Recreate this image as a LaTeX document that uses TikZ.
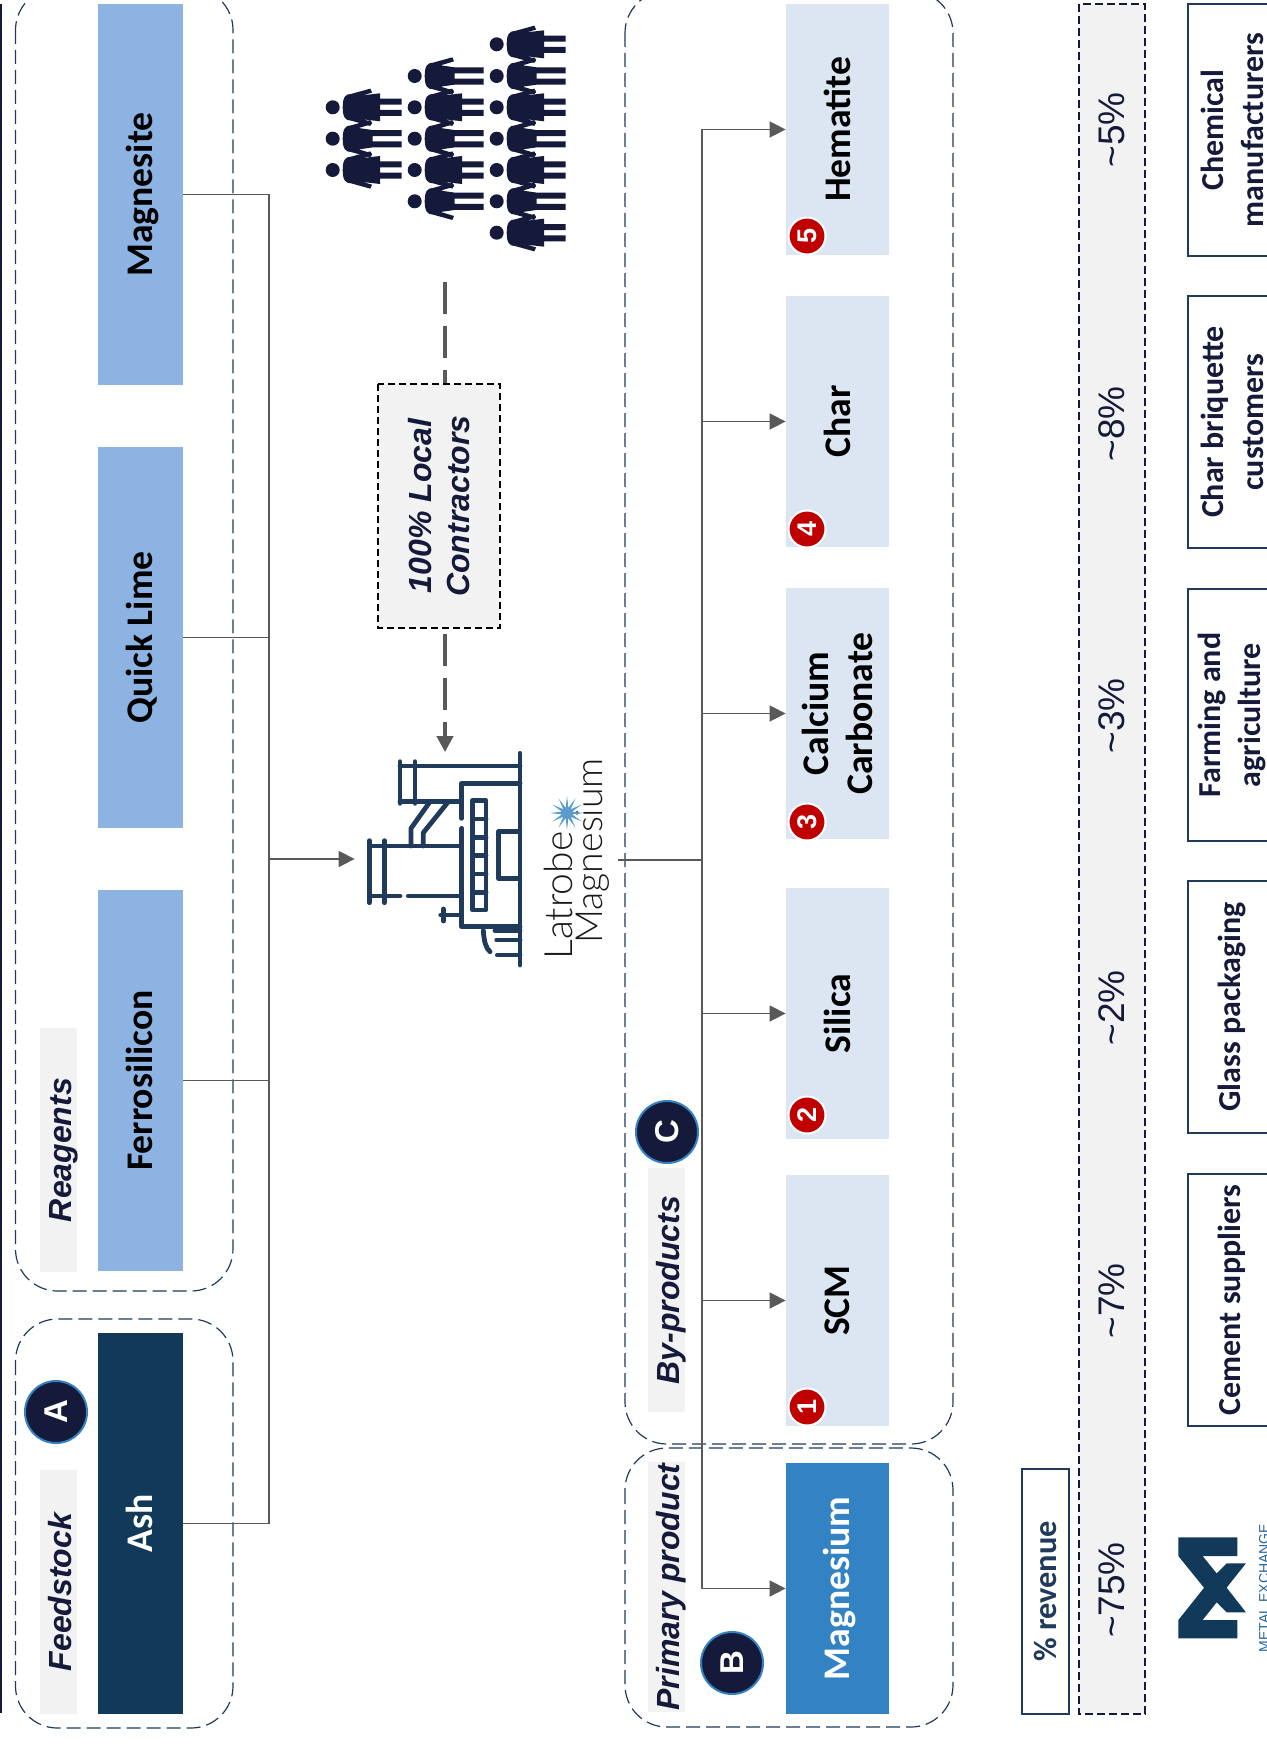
\documentclass[tikz,border=0pt]{standalone}
\usepackage{fontspec}
\setmainfont{Carlito}
\newfontfamily\arialfont{Liberation Sans}
\newfontfamily\logofont{Lato Light}
\definecolor{feednavy}{RGB}{17,58,90}
\definecolor{reagentblue}{RGB}{141,179,226}
\definecolor{mainblue}{RGB}{50,130,196}
\definecolor{paleblue}{RGB}{220,230,242}
\definecolor{inknavy}{RGB}{21,26,58}
\definecolor{linenavy}{RGB}{31,58,90}
\definecolor{bandgray}{RGB}{242,242,242}
\definecolor{arrowgray}{RGB}{89,89,89}
\definecolor{badgered}{RGB}{192,0,0}
\usetikzlibrary{arrows.meta, shapes.geometric}

\begin{document}
\begin{tikzpicture}[
    x=0.5pt, y=-0.5pt,
    group/.style={draw=linenavy, line width=0.6pt, rounded corners=21pt,
                  dash pattern=on 7pt off 3pt},
    stock/.style={fill=#1, rotate=90, inner sep=0pt, align=center,
                  minimum width=190.5pt, minimum height=42.5pt,
                  text height=16pt, text depth=4pt,
                  font=\bfseries\fontsize{18.8}{22}\selectfont},
    product/.style={fill=#1, rotate=90, inner sep=0pt, align=center,
                  minimum width=125.5pt, minimum height=51.5pt,
                  font=\bfseries\fontsize{18.8}{22}\selectfont},
    buyer/.style={draw=linenavy, line width=1.4pt, rotate=90, inner sep=0pt,
                  minimum width=126pt, minimum height=44pt, align=center,
                  text=inknavy, font=\bfseries\fontsize{16}{20}\selectfont},
    tag/.style={fill=bandgray, rotate=90, inner sep=0pt, text=inknavy,
                minimum height=18.5pt, text height=15pt, text depth=2.5pt,
                font=\arialfont\bfseries\itshape\fontsize{16}{19}\selectfont},
    share/.style={rotate=90, text=inknavy,
                  font=\arialfont\fontsize{18.5}{22}\selectfont},
    letter/.style={circle, draw=mainblue, line width=1pt, fill=inknavy,
                   minimum size=31pt, inner sep=0pt, text=white, rotate=90,
                   font=\arialfont\bfseries\fontsize{16.5}{20}\selectfont},
    badge/.style={circle, draw=white, line width=1pt, fill=badgered,
                  minimum size=18.5pt, inner sep=0pt, text=white, rotate=90,
                  font=\arialfont\bfseries\fontsize{13.5}{16}\selectfont},
    link/.style={draw=arrowgray, line width=0.8pt},
    arr/.style={link, -{Triangle[length=8pt,width=8pt]}},
    contract/.style={draw=arrowgray, line width=2pt, dash pattern=on 16pt off 6pt},
    plantline/.style={draw=linenavy, line width=2.4pt, line cap=round, line join=round},
    man/.pic={
      \fill[inknavy] (0,0) circle[radius=21];
      \fill[inknavy] (30,0) .. controls (30,-30) and (38,-40) .. (55,-40)
        -- (113,-56) -- (118,-44) -- (78,-32) -- (120,-26) -- (207,-26) -- (207,-8)
        -- (120,-8) -- (120,8) -- (207,8) -- (207,26) -- (120,26) -- (78,32)
        -- (118,44) -- (113,56) -- (55,40) .. controls (38,40) and (30,30) .. (30,0);
    },
    woman/.pic={
      \fill[inknavy] (0,0) circle[radius=21];
      \fill[inknavy] (30,0) .. controls (30,-30) and (38,-40) .. (55,-40)
        -- (113,-56) -- (118,-44) -- (90,-36) -- (142,-42) -- (142,-26) -- (207,-26) -- (207,-8)
        -- (142,-8) -- (142,8) -- (207,8) -- (207,26) -- (142,26) -- (142,42) -- (90,36)
        -- (118,44) -- (113,56) -- (55,40) .. controls (38,40) and (30,30) .. (30,0);
    }
  ]
    \useasboundingbox (0,0) rectangle (1267,1744);

    %% PAGE EDGE LINE
    \coordinate (edgetop) at (1,4);
    \coordinate (edgebottom) at (1,1713);
    \draw[inknavy, line width=1pt] (edgetop) -- (edgebottom);

    %% DASHED GROUPS
    \draw[group] (15.5,-12) rectangle (233,1291);
    \draw[group] (15.5,1319) rectangle (233,1728);
    \draw[group] (625,-9) rectangle (953,1444);
    \draw[group] (625,1448) rectangle (953,1727);

    %% FEED BOXES
    \node[stock=reagentblue] (magnesite) at (140.5,194.5) {Magnesite};
    \node[stock=reagentblue] (quicklime) at (140.5,637.5) {Quick Lime};
    \node[stock=reagentblue] (ferrosilicon) at (140.5,1080.5) {Ferrosilicon};
    \node[stock=feednavy, text=white] (ash) at (140.5,1523.5) {Ash};

    %% GROUP TAGS
    \node[tag, minimum width=122pt] (reagents) at (58.5,1150) {Reagents};
    \node[tag, minimum width=122pt] (feedstock) at (58.5,1592) {Feedstock};
    \node[tag, minimum width=122pt] (byproducts) at (666.5,1290) {By-products};
    \node[tag, minimum width=125pt] (primary) at (666.5,1587) {Primary product};
    \node[letter] (lettera) at (56,1412) {A};
    \node[letter] (letterb) at (732,1663) {B};
    \node[letter] (letterc) at (667,1132) {C};

    %% PRODUCT BOXES
    \node[product=paleblue] (hematite) at (837.5,129.5) {Hematite};
    \node[product=paleblue] (char) at (837.5,421.5) {Char};
    \node[product=paleblue] (calcium) at (837.5,713.5) {Calcium\\Carbonate};
    \node[product=paleblue] (silica) at (837.5,1013.5) {Silica};
    \node[product=paleblue] (scm) at (837.5,1300.5) {SCM};
    \node[product=mainblue, text=white, text height=16pt, text depth=4pt]
      (magnesium) at (837.5,1588.5) {Magnesium};

    %% NUMBER BADGES
    \node[badge] (badgefive) at (807,236) {5};
    \node[badge] (badgefour) at (807,529) {4};
    \node[badge] (badgethree) at (807,822) {3};
    \node[badge] (badgetwo) at (807,1115) {2};
    \node[badge] (badgeone) at (807,1407) {1};

    %% PLANT ICON
    \node[minimum width=83.5pt, minimum height=106.5pt, inner sep=0pt] (plant) at (438.5,859) {};
    \begin{scope}[shift={(340,720)}, scale=1/3]
      \draw[plantline] (540,100) -- (540,735);
      \draw[plantline] (180,138) -- (540,138);
      \draw[plantline] (180,125) -- (180,250);
      \draw[plantline] (225,125) -- (225,250);
      \draw[plantline] (180,245) -- (360,245);
      \draw[plantline] (540,190) -- (365,190) -- (365,295);
      \draw[plantline] (365,325) -- (365,620) -- (540,620);
      \draw[plantline] (398,242) rectangle (438,570);
      \foreach \ypos in {297,352,407,462,517} {
        \draw[plantline] (398,\ypos) -- (438,\ypos);
      }
      \draw[plantline] (535,335) -- (475,335) -- (475,475) -- (535,475);
      \draw[plantline] (88,378) -- (360,378);
      \draw[plantline] (88,528) -- (180,528);
      \draw[plantline] (205,528) -- (360,528);
      \draw[plantline] (88,362) -- (88,548);
      \draw[plantline] (133,362) -- (133,548);
      \draw[plantline] (213,378) -- (213,325) -- (270,245);
      \draw[plantline] (250,378) -- (250,338) -- (325,245);
      \draw[plantline] (302,585) -- (365,585);
      \draw[plantline] (310,567) -- (310,603);
      \draw[plantline] (465,632) -- (540,632);
      \draw[plantline] (470,660) -- (540,660);
      \draw[plantline] (472,705) -- (540,705);
      \draw[plantline] (430,632) .. controls (432,665) and (438,685) .. (450,695);
    \end{scope}

    %% LATROBE LOGO
    \node[rotate=90, anchor=base west, inner sep=0pt, text=black!90,
          font=\logofont\fontsize{19.5}{22}\selectfont] (latrobe) at (572,960) {Latrobe};
    \node[rotate=90, anchor=base west, inner sep=0pt, text=black!90,
          font=\logofont\fontsize{18.7}{22}\selectfont] (magnesiumlogo) at (602,944) {Magnesium};
    \node[star, star points=12, star point ratio=3.2, minimum size=17pt, inner sep=0pt,
          fill=mainblue!80!white] (logostar) at (567,813) {};

    %% CONTRACTORS AND PEOPLE
    \foreach \px/\py in {332.7/138.7, 414.7/76, 414.7/138.7, 414.7/201.3,
                         496.7/76, 496.7/138.7, 496.7/201.3} {
      \pic[scale=1/3] at (\px,\py) {man};
    }
    \foreach \px/\py in {332.7/107.3, 332.7/170, 414.7/107.3, 414.7/170,
                         496.7/44.3, 496.7/107.3, 496.7/170, 496.7/232.7} {
      \pic[scale=1/3] at (\px,\py) {woman};
    }
    \node[draw=black, fill=bandgray, line width=0.6pt, dash pattern=on 3.5pt off 2pt,
          rotate=90, inner sep=0pt, minimum width=122pt, minimum height=61pt, align=center,
          text=inknavy, font=\arialfont\bfseries\itshape\fontsize{16}{19}\selectfont]
      (contractors) at (439,506) {100\% Local\\Contractors};
    \coordinate (people) at (445,282);
    \draw[contract] (people) -- (people |- contractors.east);
    \draw[contract, -{Triangle[length=8pt,width=8pt]}, shorten <=2.5pt]
      (people |- contractors.west) -- (people |- plant.north);

    %% CONNECTORS
    \coordinate (inbus) at (269,859);
    \coordinate (trunk) at (702,860);
    \coordinate (logoout) at (618,860);
    \draw[link] (magnesite.south) -| (inbus);
    \draw[link] (quicklime.south) -| (inbus);
    \draw[link] (ferrosilicon.south) -| (inbus);
    \draw[link] (ash.south) -| (inbus);
    \draw[arr] (inbus) -- (plant.west);
    \draw[link, line width=1pt] (logoout) -- (trunk);
    \draw[arr] (trunk) |- (hematite.north);
    \draw[arr] (trunk) |- (char.north);
    \draw[arr] (trunk) |- (calcium.north);
    \draw[arr] (trunk) |- (silica.north);
    \draw[arr] (trunk) |- (scm.north);
    \draw[arr] (trunk) |- (magnesium.north);

    %% REVENUE BAND
    \node[draw=linenavy, fill=white, line width=1.3pt, rotate=90, inner sep=0pt,
          minimum width=122.5pt, minimum height=23.5pt, text=linenavy,
          font=\bfseries\fontsize{16.2}{18}\selectfont] (revenue) at (1045.5,1591.5) {\% revenue};
    \node[draw=inknavy, fill=bandgray, line width=0.6pt, dash pattern=on 4pt off 2pt,
          rotate=90, inner sep=0pt, minimum width=855pt, minimum height=33pt] (band) at (1112,859) {};
    \node[share] (sharehematite) at (1112,130) {\textasciitilde5\%};
    \node[share] (sharechar) at (1112,424) {\textasciitilde8\%};
    \node[share] (sharecalcium) at (1112,716) {\textasciitilde3\%};
    \node[share] (sharesilica) at (1112,1008) {\textasciitilde2\%};
    \node[share] (sharescm) at (1112,1301) {\textasciitilde7\%};
    \node[share] (sharemagnesium) at (1112,1590) {\textasciitilde75\%};

    %% BUYER BOXES
    \node[buyer] (chemical) at (1232,130) {Chemical\\manufacturers};
    \node[buyer] (briquette) at (1232,422) {Char briquette\\customers};
    \node[buyer] (farming) at (1232,715) {Farming and\\agriculture};
    \node[buyer] (glass) at (1232,1007) {Glass packaging};
    \node[buyer] (cement) at (1232,1300) {Cement suppliers};

    %% METAL EXCHANGE LOGO
    \fill[feednavy] (1000+535/3,1400+412/3) -- ++(59,0) -- ++(0,18.7) -- ++(-34.7,0)
      -- ++(14,17.3) -- ++(10,-10) -- ++(19.3,0) -- ++(-19.3,24.3) -- ++(19.3,24.7)
      -- ++(-19.3,0) -- ++(-10,-10) -- ++(-14,17.7) -- ++(34.7,0) -- ++(0,18.3)
      -- ++(-59,0) -- ++(0,-18.3) -- ++(25.7,-32.3) -- ++(-25.7,-31.7) -- cycle;
    \node[rotate=90, inner sep=0pt, text=mainblue!60!feednavy,
          font=\arialfont\fontsize{7}{8}\selectfont] (metalexchange) at (1264,1588) {METAL EXCHANGE};
  \end{tikzpicture}
\end{document}
